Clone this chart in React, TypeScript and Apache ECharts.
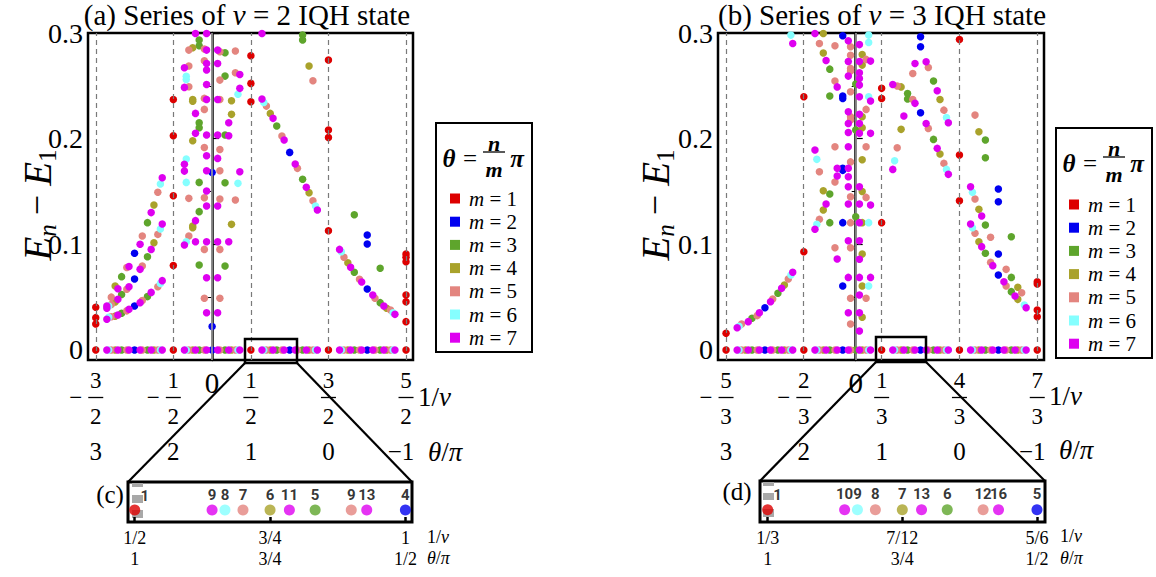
import React, { useEffect, useRef } from "react";
import * as echarts from "echarts";

const SERIF = "'Liberation Serif', 'DejaVu Serif', serif";
const M_COLORS = ["#dd0000", "#0000f0", "#5ea52c", "#a9a22b", "#e3857f", "#85ffff", "#de00f0"];
const M_LABELS = ["m = 1", "m = 2", "m = 3", "m = 4", "m = 5", "m = 6", "m = 7"];

// ---------- panel (a): nu = 2 ----------
const ticksA = [-1.5, -0.5, 0, 0.5, 1.5, 2.5];
const nuLabelsA = ["-3/2", "-1/2", "0", "1/2", "3/2", "5/2"];
const thetaLabelsA = ["3", "2", "", "1", "0", "-1"];

const baseA1 = [-1.5, -0.5, 0.5, 1.5, 2.5];
const baseA2 = [-1, 0, 1, 2];
const baseA3 = [-1.1667, -0.8333, -0.1667, 0.1667, 0.8333, 1.1667, 1.8333, 2.1667];
const baseA4 = [-1.25, -0.75, -0.25, 0.25, 0.75, 1.25, 1.75, 2.25];
const baseA5 = [-1.3, -1.1, -0.9, -0.7, -0.3, -0.1, 0.1, 0.3, 0.7, 0.9, 1.1, 1.3, 1.7, 1.9, 2.1, 2.3];
const baseA6 = [-1.3333, -0.6667, -0.3333, 0.3333, 0.6667, 1.3333, 1.6667, 2.3333];
const baseA7 = [-1.3571, -1.2143, -1.0714, -0.9286, -0.7857, -0.6429, -0.3571, -0.2143, -0.0714, 0.0714, 0.2143, 0.3571, 0.6429, 0.7857, 0.9286, 1.0714, 1.2143, 1.3571, 1.6429, 1.7857, 1.9286, 2.0714, 2.2143, 2.3571];

const ptsA1 = [[0.5, 0.2785], [0.5, 0.2523], [0.5, 0.2349], [1.5, 0.2744], [1.5, 0.2081], [1.5, 0.2012], [1.5, 0.1129], [-0.5, 0.2371], [-0.5, 0.2028], [-0.5, 0.146], [-0.5, 0.08], [-1.5, 0.0404], [-1.5, 0.0306], [-1.5, 0.0246], [2.5, 0.0908], [2.5, 0.0877], [2.5, 0.0836], [2.5, 0.052], [2.5, 0.0457], [2.5, 0.0268]];
const ptsA2 = [[1, 0.187], [0, 0.168], [0, 0.0221], [-1, 0.0915], [-1, 0.0672], [-1, 0.0416], [2, 0.1088], [2, 0.1003], [2, 0.0577]];
const ptsA3 = [[-0.1667, 0.2933], [-0.1667, 0.288], [-0.1667, 0.215], [-0.1667, 0.2103], [-0.1667, 0.1586], [-0.1667, 0.1309], [-0.1667, 0.0804], [0.1667, 0.2813], [0.1667, 0.2592], [0.1667, 0.2034], [0.1667, 0.1583], [0.1667, 0.0795], [0.8333, 0.2119], [1.1667, 0.298], [1.1667, 0.2933], [1.1667, 0.1615], [-0.8333, 0.1205], [-0.8333, 0.0883], [-0.8333, 0.0505], [-1.1667, 0.0694], [-1.1667, 0.0525], [-1.1667, 0.0347], [1.8333, 0.128], [1.8333, 0.0735], [2.1667, 0.0773], [2.1667, 0.0448]];
const ptsA4 = [[-0.25, 0.286], [-0.25, 0.237], [-0.25, 0.2355], [-0.25, 0.198], [-0.25, 0.1173], [-0.25, 0.1157], [0.25, 0.2359], [0.25, 0.223], [0.25, 0.1189], [0.75, 0.2239], [1.25, 0.2687], [1.25, 0.1489], [-0.75, 0.1372], [-0.75, 0.1015], [1.75, 0.0826], [2.25, 0.0394], [-1.25, 0.0605], [-1.25, 0.0455], [-1.25, 0.032]];
const ptsA5 = [[-0.3, 0.2838], [-0.3, 0.2687], [-0.3, 0.2491], [-0.3, 0.1435], [-0.3, 0.1079], [-0.1, 0.2848], [-0.1, 0.2737], [-0.1, 0.2381], [-0.1, 0.2277], [-0.1, 0.1917], [-0.1, 0.1441], [-0.1, 0.0952], [-0.1, 0.0489], [0.1, 0.2822], [0.1, 0.2554], [0.1, 0.2371], [0.1, 0.1898], [0.1, 0.1697], [0.1, 0.1429], [0.1, 0.0952], [0.1, 0.0489], [0.3, 0.2829], [0.3, 0.2624], [0.3, 0.1419], [0.7, 0.2308], [0.9, 0.2025], [1.1, 0.1719], [1.3, 0.2548], [1.3, 0.1413], [1.7, 0.0877], [1.9, 0.0669], [2.1, 0.0489], [2.3, 0.0378], [-0.7, 0.1492], [-0.7, 0.1094], [-0.7, 0.0599], [-0.9, 0.1079], [-0.9, 0.0795], [-0.9, 0.0467], [-1.1, 0.078], [-1.1, 0.0574], [-1.1, 0.037], [-1.3, 0.05], [-1.3, 0.043], [-1.3, 0.0315]];
const ptsA6 = [[-0.3333, 0.259], [-0.3333, 0.256], [-0.3333, 0.1807], [-0.3333, 0.1586], [-0.3333, 0.1025], [0.3333, 0.242], [0.3333, 0.1577], [0.6667, 0.2343], [1.3333, 0.1362], [1.6667, 0.093], [2.3333, 0.0353], [-0.6667, 0.157], [-0.6667, 0.1145], [-0.6667, 0.063], [-1.3333, 0.0415], [-1.3333, 0.031]];
const ptsA7 = [[-0.2143, 0.2996], [-0.0714, 0.2996], [0.6429, 0.2996], [-0.0714, 0.2838], [0.0714, 0.2838], [-0.0714, 0.2712], [0.0714, 0.2712], [-0.3571, 0.2671], [-0.0714, 0.2649], [0.3571, 0.2608], [-0.0714, 0.2513], [-0.3571, 0.2485], [0.3571, 0.2476], [-0.0714, 0.2371], [0.0714, 0.2371], [-0.2143, 0.2239], [0.2143, 0.215], [-0.2143, 0.205], [-0.0714, 0.2034], [0.0714, 0.2034], [0.2143, 0.2028], [-0.0714, 0.1839], [0.0714, 0.1813], [-0.3571, 0.1757], [-0.3571, 0.1693], [-0.0714, 0.1697], [0.3571, 0.1687], [-0.0714, 0.1504], [-0.0714, 0.1362], [0.0714, 0.1362], [-0.2143, 0.1224], [-0.3571, 0.0993], [-0.2143, 0.1025], [-0.0714, 0.1025], [0.0714, 0.1025], [0.2143, 0.1025], [-0.0714, 0.0684], [0.0714, 0.0684], [-0.0714, 0.0353], [0.0714, 0.0353],
  [0.6429, 0.2375], [0.7857, 0.2192], [0.9286, 0.1987], [1.0714, 0.176], [1.2143, 0.1539], [1.3571, 0.1325], [1.6429, 0.0952], [1.7857, 0.0782], [1.9286, 0.0643], [2.0714, 0.052], [2.2143, 0.0416], [2.3571, 0.0337],
  [-0.6429, 0.163], [-0.7857, 0.13], [-0.9286, 0.1], [-1.0714, 0.079], [-1.2143, 0.058], [-1.3571, 0.0415],
  [-0.6429, 0.1192], [-0.7857, 0.0952], [-0.9286, 0.0763], [-1.0714, 0.0599], [-1.2143, 0.0479], [-1.3571, 0.0395],
  [-0.6429, 0.0656], [-0.7857, 0.0545], [-0.9286, 0.0448], [-1.0714, 0.0385], [-1.2143, 0.0331], [-1.3571, 0.029]];

// ---------- panel (b): nu = 3 ----------
const ticksB = [-1.6667, -0.6667, 0, 0.3333, 1.3333, 2.3333];
const nuLabelsB = ["-5/3", "-2/3", "0", "1/3", "4/3", "7/3"];
const thetaLabelsB = ["3", "2", "", "1", "0", "-1"];

const baseB1 = [-1.6667, -0.6667, 0.3333, 1.3333, 2.3333];
const baseB2 = [-1.1667, -0.1667, 0.8333, 1.8333];
const baseB3 = [-1.3333, -1, -0.3333, 0, 0.6667, 1, 1.6667, 2];
const baseB4 = [-1.4167, -0.9167, -0.4167, 0.0833, 0.5833, 1.0833, 1.5833, 2.0833];
const baseB5 = [-1.4667, -1.2667, -1.0667, -0.8667, -0.4667, -0.2667, -0.0667, 0.1333, 0.5333, 0.7333, 0.9333, 1.1333, 1.5333, 1.7333, 1.9333, 2.1333];
const baseB6 = [-1.5, -0.8333, -0.5, 0.1667, 0.5, 1.1667, 1.5, 2.1667];
const baseB7 = [-1.5238, -1.381, -1.2381, -1.0952, -0.9524, -0.8095, -0.5238, -0.381, -0.2381, -0.0952, 0.0476, 0.1905, 0.4762, 0.619, 0.7619, 0.9048, 1.0476, 1.1905, 1.4762, 1.619, 1.7619, 1.9048, 2.0476, 2.1905];

const ptsB1 = [[-0.6667, 0.2397], [0.3333, 0.2476], [0.3333, 0.238], [1.3333, 0.1845], [1.3333, 0.2939], [0.3333, 0.1205], [-0.6667, 0.093], [-1.6667, 0.0158], [1.3333, 0.1413], [2.3333, 0.0646], [2.3333, 0.0624], [2.3333, 0.0378], [2.3333, 0.0315]];
const ptsB2 = [[-0.1667, 0.2974], [-0.1667, 0.2403], [-0.1667, 0.238], [0.8333, 0.2245], [0.8333, 0.2964], [0.8333, 0.287], [-0.1667, 0.1719], [-0.1667, 0.17], [-0.1667, 0.1205], [-0.1667, 0.0605], [-1.1667, 0.04], [1.8333, 0.1523], [1.8333, 0.1403], [1.8333, 0.0908], [1.8333, 0.071]];
const ptsB3 = [[-0.3333, 0.2658], [0, 0.2517], [-0.3333, 0.2403], [0, 0.2081], [0.6667, 0.2428], [0.6667, 0.2375], [1, 0.1993], [1, 0.2545], [-0.3333, 0.1476], [-0.3333, 0.1205], [0, 0.1261], [-1.3333, 0.03], [-1, 0.0536], [1.6667, 0.1987], [1.6667, 0.182], [1.6667, 0.1183], [1.6667, 0.0915], [2, 0.1072], [2, 0.0687], [2, 0.0552]];
const ptsB4 = [[-0.4167, 0.2996], [-0.4167, 0.281], [0.0833, 0.2797], [0.0833, 0.2696], [0.0833, 0.2208], [0.0833, 0.2103], [0.5833, 0.249], [0.5833, 0.2088], [1.0833, 0.1854], [1.0833, 0.2371], [0.0833, 0.18], [-0.4167, 0.1507], [-0.4167, 0.1324], [0.0833, 0.15], [0.0833, 0.1205], [0.0833, 0.0908], [0.0833, 0.0605], [0.0833, 0.0309], [-0.9167, 0.0615], [1.5833, 0.2066], [1.5833, 0.1331], [1.5833, 0.1025], [2.0833, 0.0593], [2.0833, 0.0479]];
const ptsB5 = [[-0.4667, 0.29], [-0.2667, 0.288], [-0.0667, 0.287], [-0.0667, 0.279], [0.1333, 0.275], [-0.0667, 0.2665], [-0.0667, 0.264], [-0.2667, 0.2545], [-0.0667, 0.2444], [0.1333, 0.2277], [-0.0667, 0.2208], [-0.0667, 0.2176], [0.5333, 0.2498], [0.7333, 0.2371], [0.5333, 0.1914], [0.9333, 0.2097], [1.1333, 0.1766], [0.7333, 0.2617], [0.9333, 0.2674], [1.1333, 0.227], [-0.4667, 0.1687], [-0.2667, 0.1924], [-0.0667, 0.178], [0.1333, 0.1924], [-0.0667, 0.145], [-0.2667, 0.159], [-0.4667, 0.1236], [-0.0667, 0.1205], [0.1333, 0.1444], [-0.2667, 0.0968], [-0.0667, 0.0968], [-0.0667, 0.0489], [0.1333, 0.0489], [-0.0667, 0.0246], [-1.4667, 0.0246], [-1.2667, 0.0325], [-1.0667, 0.0482], [-0.8667, 0.0672], [1.5333, 0.2223], [1.5333, 0.1429], [1.5333, 0.1104], [1.7333, 0.1066], [1.7333, 0.0829], [1.9333, 0.0763], [1.9333, 0.0605], [2.1333, 0.0542]];
const ptsB6 = [[-0.8333, 0.298], [0.1667, 0.298], [0.1667, 0.291], [0.1667, 0.2397], [0.5, 0.1791], [1.1667, 0.1709], [1.1667, 0.2201], [-0.5, 0.1804], [-0.5, 0.1189], [0.1667, 0.1205], [0.1667, 0.0605], [-1.5, 0.0225], [-0.8333, 0.071], [1.5, 0.1492], [1.5, 0.1157], [2.1667, 0.0426]];
const ptsB7 = [[-0.8095, 0.29], [-0.5238, 0.2996], [-0.0952, 0.2927], [0.0476, 0.289], [-0.381, 0.274], [-0.0952, 0.273], [0.0476, 0.273], [0.1905, 0.2734], [-0.0952, 0.2592], [0.0476, 0.2624], [0.0476, 0.257], [-0.2381, 0.249], [0.0476, 0.2507], [0.0476, 0.2397], [0.1905, 0.2356], [-0.0952, 0.2255], [0.0476, 0.223], [-0.0952, 0.2144], [0.0476, 0.2144], [-0.0952, 0.2059], [0.0476, 0.205], [0.1905, 0.205], [-0.0952, 0.1924], [-0.5238, 0.1892], [-0.2381, 0.1719], [-0.2381, 0.1646], [-0.0952, 0.1719], [-0.0952, 0.164], [0.0476, 0.1545], [-0.0952, 0.1545], [-0.381, 0.1381], [-0.0952, 0.1381], [0.0476, 0.1381], [0.1905, 0.1372], [-0.5238, 0.1142], [0.0476, 0.1205], [-0.2381, 0.0861], [-0.0952, 0.1034], [0.0476, 0.1034], [0.0476, 0.0858], [-0.0952, 0.0687], [0.0476, 0.0687], [0.1905, 0.0687], [0.0476, 0.052], [-0.0952, 0.0353], [0.0476, 0.0353], [0.0476, 0.018],
  [0.4762, 0.2513], [0.7619, 0.2334], [0.619, 0.2214], [0.4762, 0.1709], [0.9048, 0.2144], [1.0476, 0.1908], [1.1905, 0.1662], [0.7619, 0.2712], [0.9048, 0.2728], [1.0476, 0.2453], [1.1905, 0.2151], [1.4762, 0.1545], [1.619, 0.1268], [1.4762, 0.1192], [1.619, 0.0978], [1.7619, 0.0798], [1.9048, 0.0646], [2.0476, 0.0511], [2.1905, 0.04],
  [-1.5238, 0.0211], [-1.381, 0.0268], [-1.2381, 0.0353], [-1.0952, 0.0457], [-0.9524, 0.0583], [-0.8095, 0.0735]];

// ---------- insets ----------
const insetCX = [0.5, 0.6429, 0.6667, 0.7, 0.75, 0.7857, 0.8333, 0.9, 0.9286, 1.0];
const insetCM = [1, 7, 6, 5, 4, 7, 3, 5, 7, 2];
const insetCNum = [1, 9, 8, 7, 6, 11, 5, 9, 13, 4];
const insetCTicks = [0.5, 0.75, 1.0];
const insetCNu = ["1/2", "3/4", "1"];
const insetCTheta = ["1", "3/4", "1/2"];

const insetDX = [0.3333, 0.4762, 0.5, 0.5333, 0.5833, 0.619, 0.6667, 0.7333, 0.7619, 0.8333];
const insetDM = [1, 7, 6, 5, 4, 7, 3, 5, 7, 2];
const insetDNum = [1, 10, 9, 8, 7, 13, 6, 12, 16, 5];
const insetDTicks = [0.3333, 0.5833, 0.8333];
const insetDNu = ["1/3", "7/12", "5/6"];
const insetDTheta = ["1", "3/4", "1/2"];

const yTickValues = [0, 0.1, 0.2, 0.3];
const yMinorValues = [0.05, 0.15, 0.25];

const baseA = [baseA1, baseA2, baseA3, baseA4, baseA5, baseA6, baseA7];
const ptsA = [ptsA1, ptsA2, ptsA3, ptsA4, ptsA5, ptsA6, ptsA7];
const baseB = [baseB1, baseB2, baseB3, baseB4, baseB5, baseB6, baseB7];
const ptsB = [ptsB1, ptsB2, ptsB3, ptsB4, ptsB5, ptsB6, ptsB7];

function nearestIdx(arr: number[], v: number) {
  let best = 0;
  for (let i = 1; i < arr.length; i++) if (Math.abs(arr[i] - v) < Math.abs(arr[best] - v)) best = i;
  return best;
}

function txt(x: number, y: number, text: string, fontSize: number, extra: any = {}) {
  return {
    type: "text", x, y, z: 50, silent: true,
    style: {
      text, fontSize, fontFamily: SERIF, fill: "#000",
      align: "center", verticalAlign: "middle", textAlign: "center", textVerticalAlign: "middle",
      ...extra,
    },
  };
}
function seg(x1: number, y1: number, x2: number, y2: number, w: number) {
  return { type: "line", z: 60, silent: true, shape: { x1, y1, x2, y2 }, style: { stroke: "#000", lineWidth: w } };
}
function box(x: number, y: number, width: number, height: number, w: number, fill = "none") {
  return { type: "rect", z: 60, silent: true, shape: { x, y, width, height }, style: { stroke: "#000", lineWidth: w, fill } };
}

function panelSeries(p: number, bases: number[][], pts: number[][][], zeroLines: number[]) {
  const guide = {
    type: "scatter", xAxisIndex: p, yAxisIndex: p, data: [], silent: true, z: 1,
    markLine: {
      silent: true, symbol: ["none", "none"], label: { show: false }, animation: false,
      lineStyle: { color: "#7a7a7a", type: [5, 4], width: 1.2 },
      data: zeroLines.map((v) => (v === 0
        ? { xAxis: v, lineStyle: { color: "#a0a0a0", type: "solid", width: 1.6 } }
        : { xAxis: v })),
    },
  };
  const sers = M_LABELS.map((name, i) => ({
    type: "scatter", name, xAxisIndex: p, yAxisIndex: p, symbol: "circle", symbolSize: 7.5,
    itemStyle: { color: M_COLORS[i], opacity: 1 }, silent: true, z: 3 + i,
    data: [...bases[i].map((x) => [x, 0]), ...pts[i]],
  }));
  return [guide, ...sers];
}

function insetSeries(p: number, xs: number[], ms: number[], nums: number[]) {
  return {
    type: "scatter", xAxisIndex: p, yAxisIndex: p, symbolSize: 11, silent: true, z: 5,
    label: {
      show: true, position: "top", distance: 2, color: "#000", fontFamily: "Roboto, 'DejaVu Sans', sans-serif",
      fontWeight: "bold", fontSize: 15, lineHeight: 16,
    },
    data: xs.map((x, i) => ({
      value: [x, 0.3], itemStyle: { color: M_COLORS[ms[i] - 1] },
      label: { formatter: String(nums[i]), offset: i === 0 ? [10, 1] : [0, 0] },
    })),
  };
}

function tickLabelElems(cx: number, nu: string, th: string) {
  const els: any[] = [];
  if (nu.indexOf("/") < 0) {
    els.push(txt(cx, 383, nu, 29));
  } else {
    const neg = nu.startsWith("-");
    const parts = nu.replace("-", "").split("/");
    els.push(txt(cx, 380, parts[0], 23));
    els.push(txt(cx, 416, parts[1], 23));
    els.push(seg(cx - 7.5, 397.5, cx + 7.5, 397.5, 1.3));
    if (neg) els.push(txt(cx - 20, 397, "\u2212", 23));
  }
  if (th) els.push(txt(th.startsWith("-") ? cx - 5 : cx, 451, th.replace("-", "\u2212"), 25));
  return els;
}

function legendTitle(x0: number, y0: number) {
  const bi = { fontStyle: "italic", fontWeight: "bold" };
  return [
    txt(x0 + 13, y0 + 37, "\u03b8", 25, bi),
    txt(x0 + 34, y0 + 37, "=", 25),
    txt(x0 + 58, y0 + 22, "n", 22, bi),
    seg(x0 + 47, y0 + 31, x0 + 69, y0 + 31, 1.3),
    txt(x0 + 58, y0 + 48, "m", 22, bi),
    txt(x0 + 81, y0 + 37, "\u03c0", 25, bi),
  ];
}

function yLabel(x: number, y: number) {
  return {
    type: "text", x, y, rotation: Math.PI / 2, z: 55, silent: true,
    style: {
      text: "{e|E}{sn|n}{o| \u2212 }{e|E}{s1|1}",
      align: "center", verticalAlign: "middle", textAlign: "center", textVerticalAlign: "middle",
      fill: "#000", fontFamily: SERIF, fontSize: 36,
      rich: {
        e: { fontFamily: SERIF, fontSize: 39, fontStyle: "italic", lineHeight: 46, verticalAlign: "middle", fill: "#000" },
        o: { fontFamily: SERIF, fontSize: 36, lineHeight: 46, verticalAlign: "middle", fill: "#000" },
        sn: { fontFamily: SERIF, fontSize: 25, fontStyle: "italic", lineHeight: 46, verticalAlign: "bottom", fill: "#000" },
        s1: { fontFamily: SERIF, fontSize: 25, lineHeight: 46, verticalAlign: "bottom", fill: "#000" },
      },
    },
  };
}

function titleText(x: number, tag: string, nu: string) {
  return {
    type: "text", x, y: 15, z: 50, silent: true,
    style: {
      text: `(${tag}) Series of {i|\u03bd} = ${nu} IQH state`,
      align: "center", verticalAlign: "middle", textAlign: "center", textVerticalAlign: "middle",
      fill: "#000", fontFamily: SERIF, fontSize: 29,
      rich: { i: { fontFamily: SERIF, fontSize: 29, fontStyle: "italic", fill: "#000" } },
    },
  };
}

function axisNames(x: number, y1: number, y2: number, size: number, dx2: number) {
  const it = { fontFamily: SERIF, fontSize: size, fontStyle: "italic", fill: "#000" };
  return [
    { type: "text", x, y: y1, z: 50, silent: true, style: { text: "1/{i|\u03bd}", fontFamily: SERIF, fontSize: size, fill: "#000", align: "left", verticalAlign: "middle", textAlign: "left", textVerticalAlign: "middle", rich: { i: it } } },
    { type: "text", x: x + dx2, y: y2, z: 50, silent: true, style: { text: "{i|\u03b8}/{i|\u03c0}", fontFamily: SERIF, fontSize: size, fill: "#000", align: "left", verticalAlign: "middle", textAlign: "left", textVerticalAlign: "middle", rich: { i: it } } },
  ];
}

const legendCommon = {
  orient: "vertical", icon: "rect", itemWidth: 10, itemHeight: 10, itemGap: 2.2,
  selectedMode: false, data: M_LABELS,
  formatter: (name: string) => `{i|m} = ${name.split("= ")[1]}`,
  textStyle: {
    color: "#000", fontFamily: SERIF, fontSize: 21, padding: [0, 0, 0, 4],
    rich: { i: { fontStyle: "italic", fontFamily: SERIF, fontSize: 21, color: "#000" } },
  },
};

function yAxisMain(grid: number) {
  return {
    type: "value", gridIndex: grid, min: -0.0095, max: 0.3,
    axisLine: { show: true, lineStyle: { color: "#000", width: 2.5 } },
    axisTick: { show: true, inside: true, length: 7, customValues: yTickValues, lineStyle: { color: "#000", width: 1.2 } },
    axisLabel: {
      show: true, customValues: yTickValues, margin: 5, color: "#000", fontFamily: SERIF, fontSize: 28,
      formatter: (v: number) => (Math.abs(v) < 1e-9 ? "0" : v.toFixed(1)),
    },
    splitLine: { show: false },
  };
}
function yAxisMinor(grid: number) {
  return {
    type: "value", gridIndex: grid, min: -0.0095, max: 0.3,
    axisLine: { show: false },
    axisTick: { show: true, inside: true, length: 4, customValues: yMinorValues, lineStyle: { color: "#000", width: 1 } },
    axisLabel: { show: false },
    splitLine: { show: false },
  };
}
function xAxisMain(grid: number, min: number, max: number) {
  return {
    type: "value", gridIndex: grid, min, max,
    axisLine: { show: false }, axisTick: { show: false }, axisLabel: { show: false }, splitLine: { show: false },
  };
}
function xAxisInset(grid: number, min: number, max: number, ticks: number[], nu: string[], th: string[]) {
  return {
    type: "value", gridIndex: grid, min, max,
    axisLine: { show: false },
    axisTick: { show: true, inside: true, length: 5, customValues: ticks, lineStyle: { color: "#000", width: 2.5 } },
    axisLabel: {
      show: true, customValues: ticks, margin: 5, color: "#000", fontFamily: SERIF, fontSize: 18, lineHeight: 21,
      formatter: (v: number) => { const i = nearestIdx(ticks, v); return nu[i] + "\n" + th[i]; },
    },
    splitLine: { show: false },
  };
}

export default function App() {
  const ref = useRef<HTMLDivElement>(null);
  useEffect(() => {
    document.body.style.margin = "0";
    const chart = echarts.init(ref.current!, null, { renderer: "svg" });
    const gridStyle = { show: true, borderColor: "#000", backgroundColor: "transparent" };
    const option: any = {
      animation: false,
      textStyle: { fontFamily: SERIF },
      grid: [
        { ...gridStyle, borderWidth: 2.5, left: 88, top: 33, width: 325, height: 327 },
        { ...gridStyle, borderWidth: 2.5, left: 718, top: 33, width: 326, height: 327 },
        { ...gridStyle, borderWidth: 3, left: 128, top: 482, width: 284, height: 40 },
        { ...gridStyle, borderWidth: 3, left: 760, top: 481, width: 285, height: 41 },
      ],
      xAxis: [
        xAxisMain(0, -1.6, 2.59),
        xAxisMain(1, -1.77, 2.42),
        xAxisInset(2, 0.4876, 1.0122, insetCTicks, insetCNu, insetCTheta),
        xAxisInset(3, 0.3191, 0.8482, insetDTicks, insetDNu, insetDTheta),
        xAxisMain(0, -1.6, 2.59),
        xAxisMain(1, -1.77, 2.42),
      ],
      yAxis: [
        yAxisMain(0),
        yAxisMain(1),
        { type: "value", gridIndex: 2, min: 0, max: 1, show: false },
        { type: "value", gridIndex: 3, min: 0, max: 1, show: false },
        yAxisMinor(0),
        yAxisMinor(1),
      ],
      legend: [
        { ...legendCommon, left: 445, top: 183 },
        { ...legendCommon, left: 1064, top: 189 },
      ],
      series: [
        ...panelSeries(0, baseA, ptsA, ticksA),
        ...panelSeries(1, baseB, ptsB, ticksB),
        insetSeries(2, insetCX, insetCM, insetCNum),
        insetSeries(3, insetDX, insetDM, insetDNum),
      ],
    };
    chart.setOption(option);

    const px = (axis: number, v: number) => chart.convertToPixel({ xAxisIndex: axis } as any, v) as unknown as number;
    const g: any[] = [];
    ticksA.forEach((v, i) => g.push(...tickLabelElems(px(0, v), nuLabelsA[i], thetaLabelsA[i])));
    ticksB.forEach((v, i) => g.push(...tickLabelElems(px(1, v), nuLabelsB[i], thetaLabelsB[i])));
    g.push(...axisNames(418, 397, 452, 27, 10));
    g.push(...axisNames(1049, 396, 450, 27, 10));
    g.push(titleText(247, "a", "2"), titleText(882, "b", "3"));
    g.push(yLabel(37, 205), yLabel(655, 205));
    // legend boxes and titles
    g.push(box(436, 123, 96, 229, 2), box(1056, 128, 96, 230, 2));
    g.push(...legendTitle(436, 121), ...legendTitle(1056, 126));
    // zoom indicators
    g.push(box(245, 339, 52, 24, 2.5), seg(245, 363, 128, 482, 2.2), seg(297, 363, 412, 482, 2.2));
    g.push(box(876, 337, 50, 25, 2.5), seg(876, 362, 760, 481, 2.2), seg(926, 362, 1045, 481, 2.2));
    // inset tags and axis names
    g.push(txt(110, 494, "(c)", 25), txt(737, 491, "(d)", 25));
    g.push(...axisNames(427, 537, 558, 18, 0));
    g.push(...axisNames(1060, 536, 558, 18, 0));
    // grey marks at inset left edge
    const grey = (x: number, y: number, w: number, h: number) => ({ type: "rect", z: 0, silent: true, shape: { x, y, width: w, height: h }, style: { fill: "#a8a8a8" } });
    g.push(grey(132, 483, 11, 4), grey(132, 495, 11, 8), grey(132, 510, 11, 8));
    g.push(grey(763, 482, 11, 4), grey(763, 493, 11, 7), grey(763, 509, 11, 8));
    chart.setOption({ graphic: g });

    return () => chart.dispose();
  }, []);
  return <div ref={ref} style={{ width: 1156, height: 577 }} />;
}
